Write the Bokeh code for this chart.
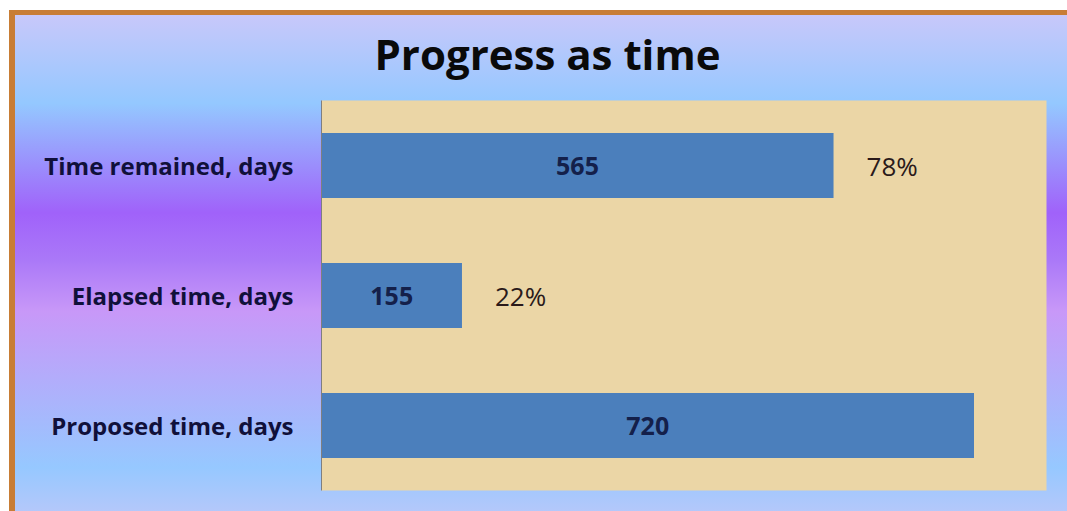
from bokeh.plotting import figure
from bokeh.models import FactorRange, Range1d, Title, ColumnDataSource
from bokeh.core.properties import value
from bokeh.embed import file_html
from bokeh.resources import INLINE

# ---- data ----
categories = ["Proposed time, days", "Elapsed time, days", "Time remained, days"]
days = [720, 155, 565]
day_labels = ["720", "155", "565"]
percent_labels = ["", "22%", "78%"]
title_text = "Progress as time"
x_max = 800

FONT = "Open Sans"
BAR = "#4b7fbc"

src = ColumnDataSource(dict(
    cat=categories,
    days=days,
    mid=[d / 2 for d in days],
    lab=day_labels,
    pct=percent_labels,
))

p = figure(
    width=1067, height=511,
    y_range=FactorRange(factors=categories),
    x_range=Range1d(0, x_max),
    output_backend="svg", toolbar_location=None,
    x_axis_location=None, title=None,
    min_border_left=321, min_border_top=100,
    min_border_right=21, min_border_bottom=21,
)

p.background_fill_color = "#ebd6a6"
p.border_fill_color = None
p.outline_line_color = None
p.grid.visible = False

p.styles = {
    "position": "fixed",
    "top": "0px",
    "left": "0px",
    "overflow": "hidden",
    "background-color": "white",
    "background-image": (
        "linear-gradient(#c87d35, #c87d35), "
        "linear-gradient(#c87d35, #c87d35), "
        "linear-gradient(to bottom, #c8c8fa 0%, #94c8ff 17%, #a062fa 38%, "
        "#aa78f8 47%, #c898f8 57%, #96c8ff 87%, #c4c8f8 100%)"
    ),
    "background-size": "6px 520px, 1080px 5px, 1080px 520px",
    "background-position": "9px 10px, 9px 10px, 15px 15px",
    "background-repeat": "no-repeat",
}

ax = p.yaxis[0]
ax.axis_line_color = "#7f7f7f"
ax.axis_line_width = 1
ax.major_tick_line_color = None
ax.minor_tick_line_color = None
ax.major_label_standoff = 22
ax.major_label_text_font = FONT
ax.major_label_text_font_style = "bold"
ax.major_label_text_font_size = "24px"
ax.major_label_text_color = "#10103a"

p.hbar(y="cat", left=0, right="days", height=0.5, source=src,
       fill_color=BAR, line_color=None)

p.text(x="mid", y="cat", text="lab", source=src,
       text_align="center", text_baseline="middle",
       text_font=value(FONT), text_font_style="bold",
       text_font_size="25px", text_color="#14204a")

p.text(x="days", y="cat", text="pct", source=src, x_offset=33,
       text_align="left", text_baseline="middle",
       text_font=value(FONT), text_font_size="26px", text_color="#2a1a1a")

p.add_layout(Title(text=title_text, align="left", offset=53, standoff=37,
                   text_font=FONT, text_font_style="bold",
                   text_font_size="42px", text_color="#0a0a0a"), "above")

open("out.html", "w").write(file_html(p, INLINE))
